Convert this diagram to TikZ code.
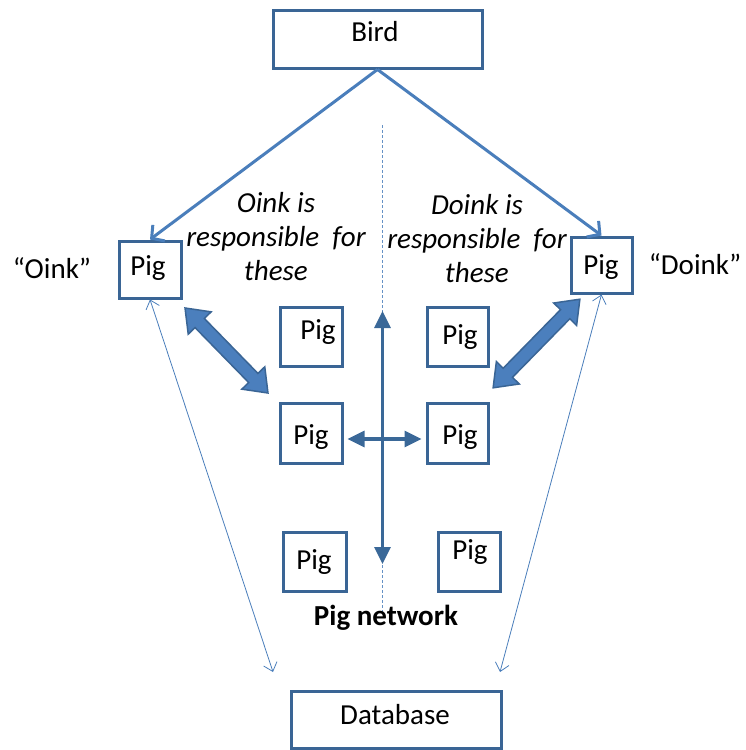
\documentclass[tikz,border=0pt]{standalone}
\usepackage{fontspec}
\setmainfont{Carlito}
\usetikzlibrary{arrows.meta,calc}
\definecolor{boxc}{HTML}{3A6595}
\definecolor{arrc}{HTML}{4A7EBB}
\definecolor{darkarr}{HTML}{3A6898}
\definecolor{blockfill}{HTML}{4B7FBD}
\definecolor{blockline}{HTML}{3A6595}
\tikzset{
  box/.style={draw=boxc, line width=3pt, fill=white, inner sep=0pt},
  lbl/.style={font=\fontsize{29}{34}\selectfont, text=black, inner sep=0pt},
  birdarrow/.style={draw=arrc, line width=3pt, -{Straight Barb[length=9pt,width=20pt]}},
  thinarrow/.style={draw=arrc, line width=0.8pt, {Straight Barb[length=8pt,width=14pt]}-{Straight Barb[length=8pt,width=14pt]}},
  netarrow/.style={draw=darkarr, line width=3.3pt, {Triangle[length=17pt,width=16pt]}-{Triangle[length=17pt,width=16pt]}},
  dashline/.style={draw=arrc!85, line width=0.9pt, dash pattern=on 3pt off 2pt},
  blockarrow/.style={fill=blockfill, draw=blockline, line width=1.5pt, line join=miter}
}
\begin{document}
\begin{tikzpicture}[x=1pt,y=-1pt]
\useasboundingbox (0,0) rectangle (746,750);
% dashed divider
\coordinate (dtop) at (382,125);
\coordinate (dbot) at (382,612);
\draw[dashline] (dtop) -- (dbot);
% boxes
\node[box, minimum width=209pt, minimum height=58pt] (bird) at (377.5,39) {};
\node[box, minimum width=62pt, minimum height=57pt] (lp) at (150,269.5) {};
\node[box, minimum width=61pt, minimum height=56pt] (rp) at (601.5,265) {};
\node[box, minimum width=62pt, minimum height=59pt] (p1) at (311,336.5) {};
\node[box, minimum width=61pt, minimum height=59pt] (p2) at (457.5,336.5) {};
\node[box, minimum width=62pt, minimum height=60pt] (p3) at (311,433) {};
\node[box, minimum width=61pt, minimum height=60pt] (p4) at (457.5,433) {};
\node[box, minimum width=63pt, minimum height=59pt] (p5) at (314.5,561.5) {};
\node[box, minimum width=62pt, minimum height=59pt] (p6) at (469,561.5) {};
\node[box, minimum width=210pt, minimum height=57pt] (db) at (396,719.5) {};
% texts
\node[lbl] (birdt) at (375,32) {Bird};
\node[lbl] (lpt) at (148,268) {Pig};
\node[lbl] (rpt) at (601,267) {Pig};
\node[lbl] (p1t) at (318,332) {Pig};
\node[lbl] (p2t) at (460,337) {Pig};
\node[lbl] (p3t) at (311,437) {Pig};
\node[lbl] (p4t) at (460,437) {Pig};
\node[lbl] (p5t) at (314,562) {Pig};
\node[lbl] (p6t) at (470,552) {Pig};
\node[lbl] (dbt) at (395,715) {Database};
\node[lbl] (oink) at (52,268) {“Oink”};
\node[lbl] (doink) at (695,264) {“Doink”};
\node[lbl, align=center, font=\fontsize{29}{34}\selectfont\itshape] (lresp) at (276,237) {Oink is\\responsible\hspace{0.45em}for\\these};
\node[lbl, align=center, font=\fontsize{29}{34}\selectfont\itshape] (rresp) at (477,239) {Doink is\\responsible\hspace{0.45em}for\\these};
\node[lbl, font=\fontsize{29}{34}\selectfont\bfseries] (net) at (386,618) {Pig network};
% bird arrows
\draw[birdarrow] (bird.south) -- (lp.north);
\draw[birdarrow] (bird.south) -- (rp.north);
% thin arrows to database
\coordinate (lthin) at (273,672);
\coordinate (rthin) at (500,672);
\draw[thinarrow] (lp.south) -- (lthin);
\draw[thinarrow] (rp.south) -- (rthin);
% network arrows
\coordinate (vtop) at (382.5,311);
\coordinate (vbot) at (382.5,564);
\draw[netarrow] (vtop) -- (vbot);
\draw[netarrow] ($(p3.east)+(4,6)$) -- ($(p4.west)+(-4,6)$);
% block arrows
\begin{scope}[shift={(226.5,350.5)}, rotate=-45.7]
\draw[blockarrow] (-59.4pt,0pt) -- (-38.4pt,16pt) -- (-38.4pt,6.5pt) -- (38.4pt,6.5pt) -- (38.4pt,16pt) -- (59.4pt,0pt) -- (38.4pt,-16pt) -- (38.4pt,-6.5pt) -- (-38.4pt,-6.5pt) -- (-38.4pt,-16pt) -- cycle;
\end{scope}
\begin{scope}[shift={(536.5,343.5)}, rotate=45.6]
\draw[blockarrow] (-62pt,0pt) -- (-41pt,16pt) -- (-41pt,6.5pt) -- (41pt,6.5pt) -- (41pt,16pt) -- (62pt,0pt) -- (41pt,-16pt) -- (41pt,-6.5pt) -- (-41pt,-6.5pt) -- (-41pt,-16pt) -- cycle;
\end{scope}
\end{tikzpicture}
\end{document}
